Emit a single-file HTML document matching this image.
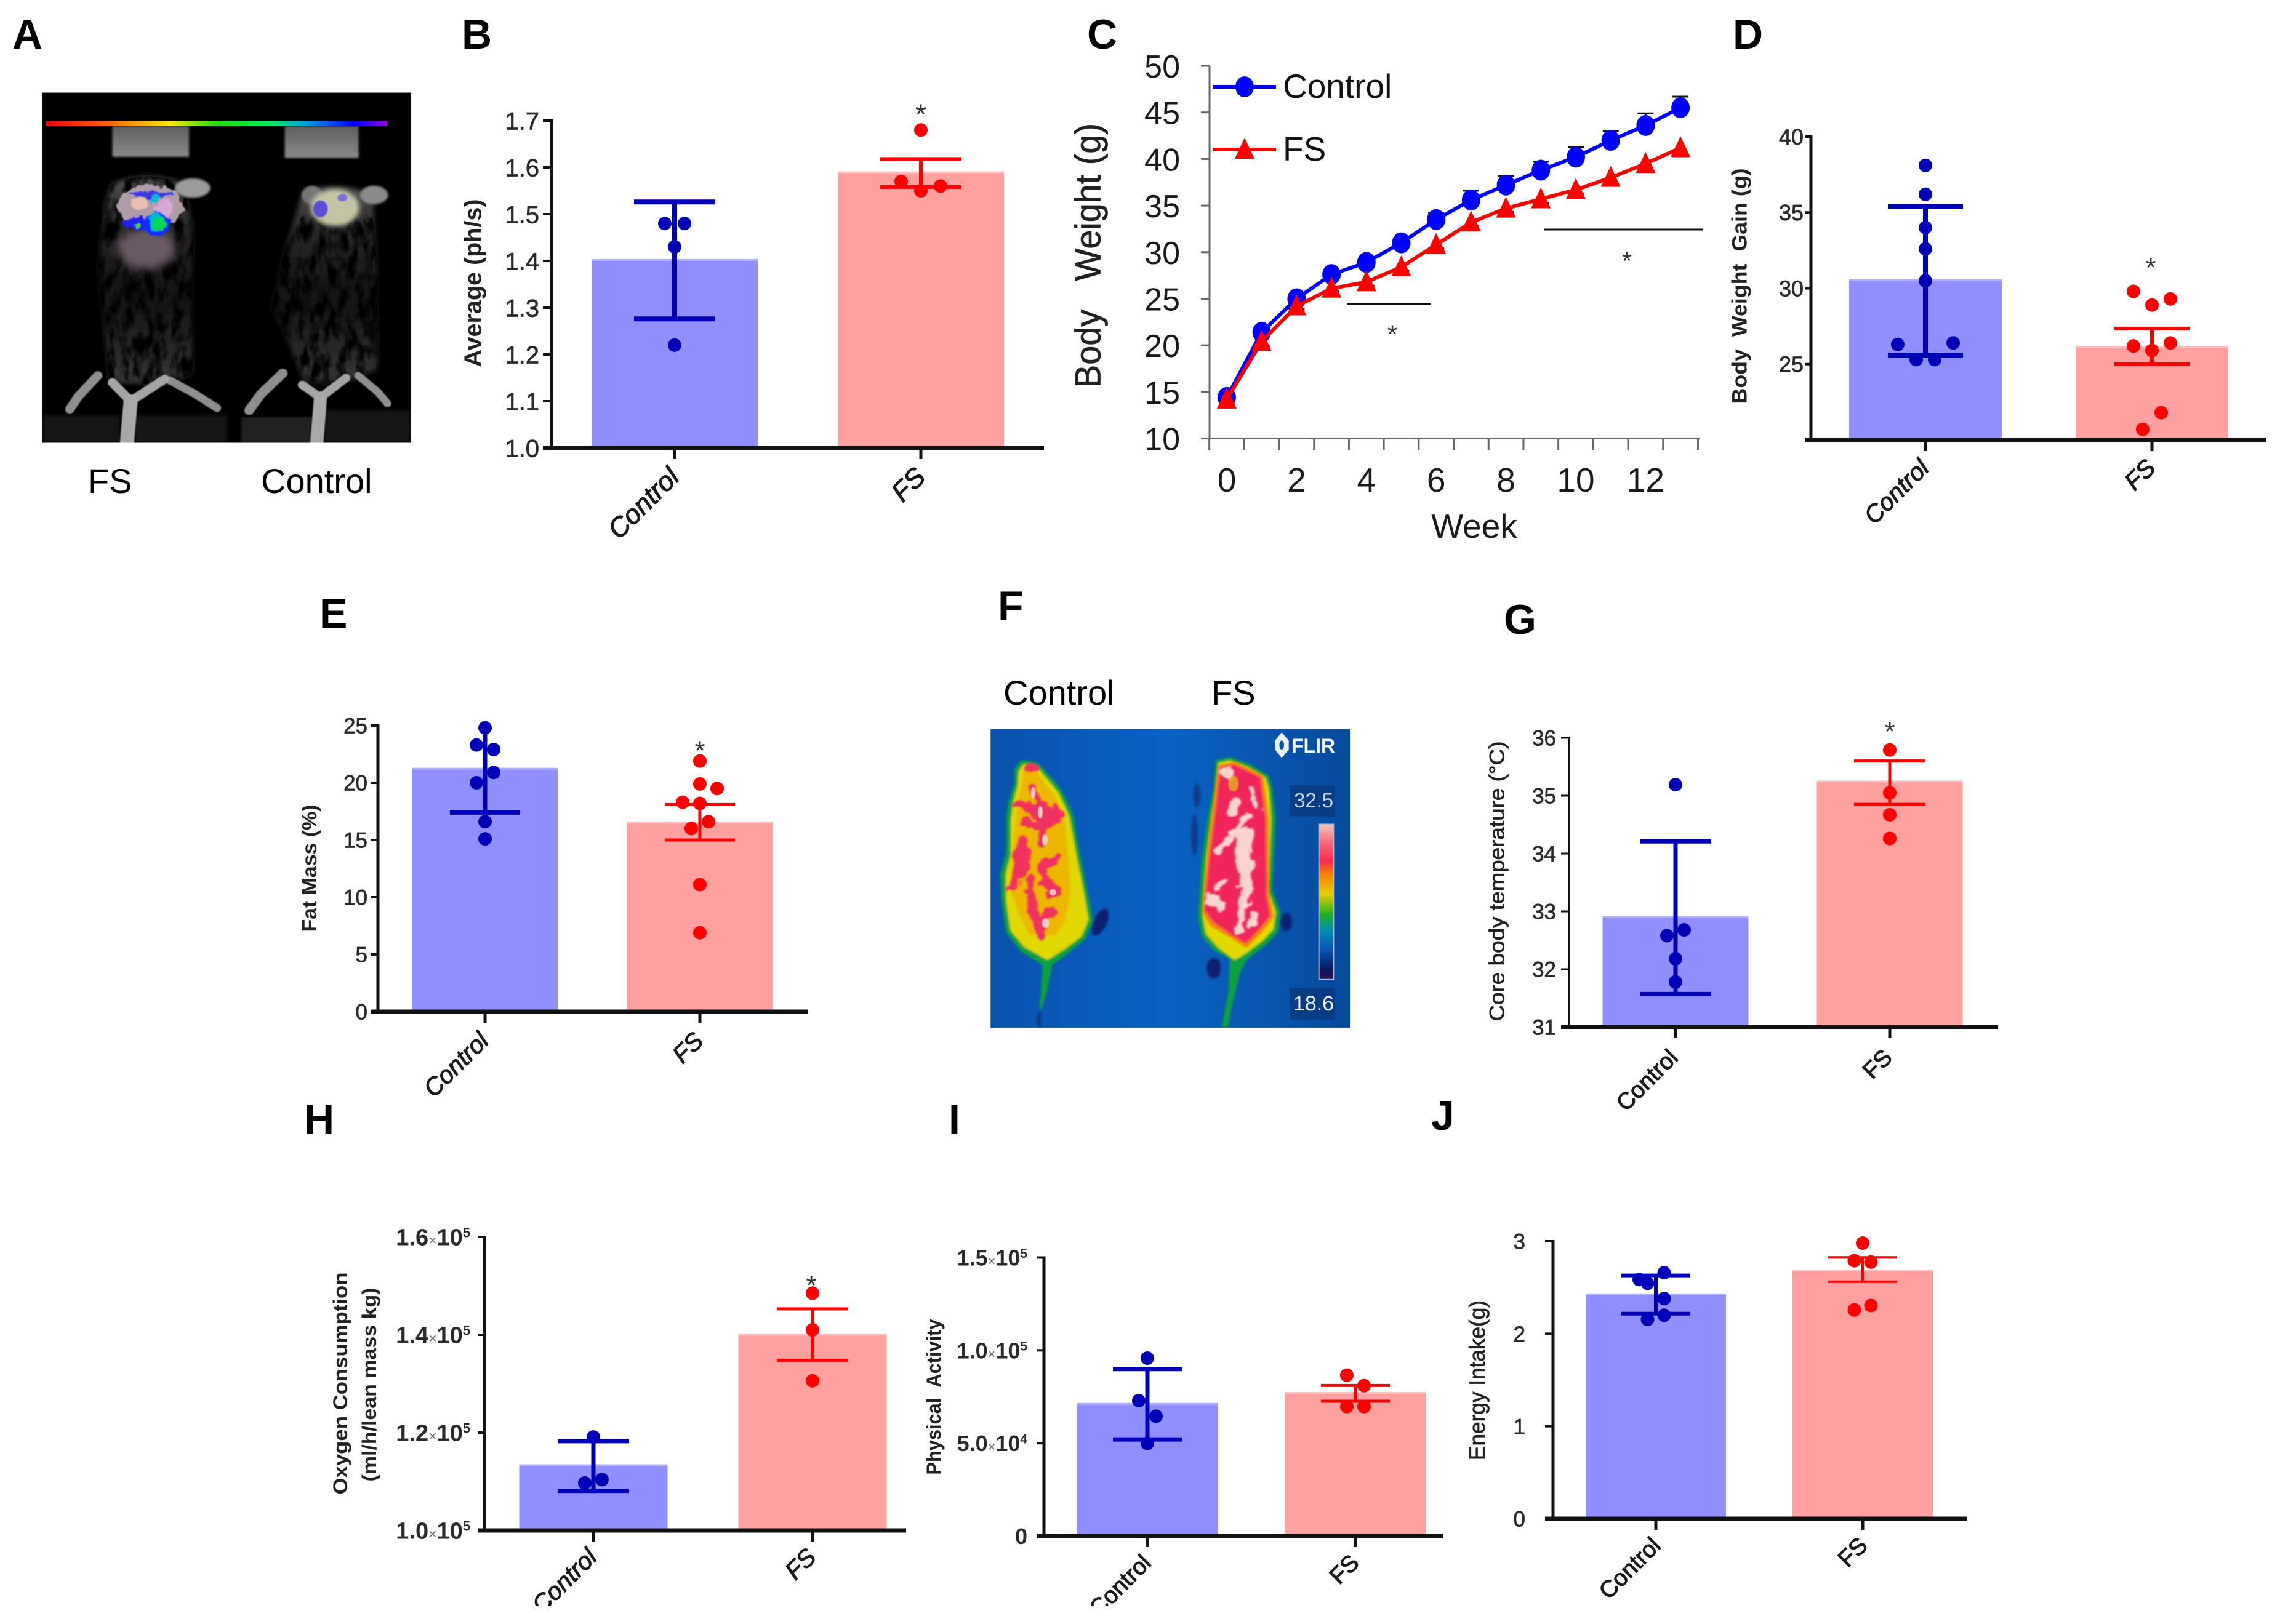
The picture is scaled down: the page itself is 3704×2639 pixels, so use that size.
<!DOCTYPE html>
<html lang="en">
<head>
<meta charset="utf-8">
<title>Multi-panel mouse study figure</title>
<style>
html,body{margin:0;padding:0;background:#fff;}
svg{display:block;font-family:"Liberation Sans",sans-serif;}
</style>
</head>
<body>
<svg id="figure" xmlns="http://www.w3.org/2000/svg" width="3704" height="2639" viewBox="0 0 3704 2639">
<defs>
<filter id="b2" x="-30%" y="-30%" width="160%" height="160%"><feGaussianBlur stdDeviation="2"/></filter>
<filter id="b5" x="-30%" y="-30%" width="160%" height="160%"><feGaussianBlur stdDeviation="5"/></filter>
<filter id="b10" x="-30%" y="-30%" width="160%" height="160%"><feGaussianBlur stdDeviation="10"/></filter>
<filter id="b20" x="-30%" y="-30%" width="160%" height="160%"><feGaussianBlur stdDeviation="20"/></filter>
<filter id="organic" x="-30%" y="-30%" width="160%" height="160%">
<feTurbulence type="fractalNoise" baseFrequency=".018 .012" numOctaves="3" seed="4" result="n"/>
<feDisplacementMap in="SourceGraphic" in2="n" scale="70" xChannelSelector="R" yChannelSelector="G"/>
<feGaussianBlur stdDeviation="4"/>
</filter>
<filter id="blotch" x="-30%" y="-30%" width="160%" height="160%">
<feTurbulence type="fractalNoise" baseFrequency=".025" numOctaves="3" seed="7" result="n"/>
<feDisplacementMap in="SourceGraphic" in2="n" scale="40" xChannelSelector="R" yChannelSelector="G"/>
<feGaussianBlur stdDeviation="2"/>
</filter>
<filter id="fur" x="0" y="0" width="100%" height="100%">
<feTurbulence type="fractalNoise" baseFrequency=".025 .012" numOctaves="3" seed="9"/>
<feColorMatrix type="matrix" values="0 0 0 0 0  0 0 0 0 0  0 0 0 0 0  3.2 0 0 0 -1.2"/>
<feComposite in2="SourceGraphic" operator="in"/>
</filter>
<linearGradient id="rainbow" x1="0" x2="1" y1="0" y2="0">
<stop offset="0" stop-color="#f00010"/><stop offset=".18" stop-color="#ff6000"/><stop offset=".36" stop-color="#ffe800"/><stop offset=".5" stop-color="#20e000"/><stop offset=".66" stop-color="#00e860"/><stop offset=".76" stop-color="#00a0e0"/><stop offset=".9" stop-color="#0000ff"/><stop offset="1" stop-color="#9000e0"/>
</linearGradient>
<linearGradient id="mouseFur" x1="0" x2="0" y1="0" y2="1">
<stop offset="0" stop-color="#505050"/><stop offset=".22" stop-color="#282828"/><stop offset=".58" stop-color="#121212"/><stop offset=".88" stop-color="#2c2c2c"/><stop offset="1" stop-color="#363636"/>
</linearGradient>
<linearGradient id="coneGray" x1="0" x2="0" y1="0" y2="1">
<stop offset="0" stop-color="#5e5e5e"/><stop offset="1" stop-color="#8a8a8a"/>
</linearGradient>
<linearGradient id="thermalBg" x1="0" x2="1" y1="0" y2="0">
<stop offset="0" stop-color="#0a52ae"/><stop offset=".5" stop-color="#0a62c4"/><stop offset="1" stop-color="#084a9c"/>
</linearGradient>
<linearGradient id="thermalScale" x1="0" x2="0" y1="0" y2="1">
<stop offset="0" stop-color="#f0c8b8"/><stop offset=".13" stop-color="#f86078"/><stop offset=".24" stop-color="#ff2850"/><stop offset=".32" stop-color="#f88000"/><stop offset=".45" stop-color="#e8d000"/><stop offset=".58" stop-color="#20b020"/><stop offset=".68" stop-color="#0090b0"/><stop offset=".8" stop-color="#0a58b8"/><stop offset=".93" stop-color="#0a1a60"/><stop offset="1" stop-color="#301050"/>
</linearGradient>
<clipPath id="clipA"><rect x="22" y="28" width="1515" height="1512"/></clipPath>
<clipPath id="clipF"><rect x="24" y="14" width="1526" height="1456"/></clipPath>
</defs>

<rect x="0" y="0" width="3704" height="2639" fill="#fff"/>

<g id="panel-a-image" transform="translate(60,140) scale(.3954,.3763)">
<g clip-path="url(#clipA)">
<rect x="22" y="28" width="1515" height="1512" fill="#000"/>
<rect x="22" y="1420" width="320" height="120" fill="#121212" filter="url(#b10)"/>
<rect x="400" y="1420" width="380" height="120" fill="#161616" filter="url(#b10)"/>
<rect x="840" y="1430" width="290" height="110" fill="#202020" filter="url(#b5)"/>
<rect x="1180" y="1400" width="357" height="140" fill="#181818" filter="url(#b10)"/>
<g filter="url(#b5)" fill="url(#coneGray)">
<rect x="310" y="172" width="315" height="133"/>
<rect x="1018" y="172" width="304" height="138"/>
</g>
<path filter="url(#b10)" fill="url(#mouseFur)" d="M310,420 Q460,360 600,420 L640,600 L640,900 L640,1240 L540,1290 L300,1280 L280,1100 L250,800 L280,500 Z"/>
<path filter="url(#b10)" fill="url(#mouseFur)" d="M1090,460 Q1230,400 1380,470 L1400,800 L1400,1220 L1300,1270 L1100,1280 L1030,1100 L960,960 L1020,700 Z"/>
<path filter="url(#fur)" fill="#000" d="M310,420 Q460,360 600,420 L640,600 L640,900 L640,1240 L540,1290 L300,1280 L280,1100 L250,800 L280,500 Z"/>
<path filter="url(#fur)" fill="#000" d="M1090,560 Q1230,500 1380,570 L1400,800 L1400,1220 L1300,1270 L1100,1280 L1030,1100 L960,960 L1020,700 Z"/>
<ellipse filter="url(#b5)" cx="640" cy="440" rx="72" ry="42" fill="#9a9a9a"/>
<ellipse filter="url(#b5)" cx="1385" cy="470" rx="58" ry="40" fill="#8a8a8a"/>
<ellipse filter="url(#b5)" cx="1130" cy="470" rx="42" ry="40" fill="#777"/>
<ellipse filter="url(#b10)" cx="1225" cy="525" rx="100" ry="80" fill="#c4c4a4"/>
<ellipse filter="url(#b2)" cx="1165" cy="530" rx="30" ry="36" fill="#5a50d8"/>
<ellipse filter="url(#b2)" cx="1255" cy="482" rx="20" ry="16" fill="#7a70d8"/>
<ellipse filter="url(#b20)" cx="450" cy="700" rx="120" ry="90" fill="#6a5a64"/>
<g filter="url(#blotch)">
<ellipse cx="465" cy="520" rx="135" ry="95" fill="#b09ca8"/>
<ellipse cx="470" cy="465" rx="90" ry="14" fill="#3a3ae0"/>
<ellipse cx="520" cy="525" rx="38" ry="38" fill="#d8a8d8"/>
<ellipse cx="425" cy="510" rx="38" ry="30" fill="#e8c0b0"/>
<ellipse cx="410" cy="590" rx="60" ry="28" fill="#2020f0"/>
<ellipse cx="492" cy="595" rx="52" ry="52" fill="#1030ff"/>
<ellipse cx="485" cy="585" rx="28" ry="40" fill="#00b0d8"/>
<ellipse cx="500" cy="595" rx="30" ry="24" fill="#00d850"/>
<ellipse cx="415" cy="600" rx="16" ry="11" fill="#50d810"/>
<ellipse cx="483" cy="482" rx="15" ry="16" fill="#00b8d8"/>
</g>
<g filter="url(#b2)" fill="none" stroke-linecap="round" stroke-linejoin="round">
<path stroke="#8e8e8e" stroke-width="38" d="M250,1250 L170,1340 L135,1395"/>
<path stroke="#8e8e8e" stroke-width="34" d="M545,1270 L650,1330 L740,1390"/>
<path stroke="#a4a4a4" stroke-width="38" d="M310,1280 L385,1360 M525,1265 L385,1360"/>
<path stroke="#a8a8a8" stroke-width="58" d="M385,1360 L370,1540"/>
<path stroke="#8e8e8e" stroke-width="40" d="M1010,1240 L920,1330 L872,1400"/>
<path stroke="#8e8e8e" stroke-width="32" d="M1320,1250 L1400,1320 L1440,1370"/>
<path stroke="#a4a4a4" stroke-width="36" d="M1090,1290 L1165,1345 M1270,1260 L1165,1345"/>
<path stroke="#a8a8a8" stroke-width="54" d="M1165,1345 L1150,1540"/>
</g>
<rect x="38" y="150" width="1402" height="22" fill="url(#rainbow)"/>
</g>
</g>

<g id="panel-f-image" transform="translate(1600,1180) scale(.3827,.3333)">
<g clip-path="url(#clipF)">
<rect x="24" y="14" width="1526" height="1456" fill="url(#thermalBg)"/>
<g fill="#08246e" filter="url(#b5)">
<ellipse cx="490" cy="955" rx="28" ry="70" transform="rotate(20 490 955)"/>
<ellipse cx="972" cy="1180" rx="30" ry="50"/>
<ellipse cx="1280" cy="955" rx="24" ry="45"/>
<ellipse cx="900" cy="340" rx="14" ry="60" fill="#0a3a88"/>
<ellipse cx="890" cy="530" rx="14" ry="100" fill="#0a3a88"/>
<ellipse cx="230" cy="1430" rx="10" ry="40" fill="#0a3a88"/>
</g>
<g filter="url(#b5)">
<path fill="#10a040" d="M150,170 Q190,160 230,185 L275,240 L325,310 L375,430 L400,600 L435,800 L460,950 L425,1040 L345,1115 L285,1165 L280,1200 L262,1300 L240,1380 L232,1380 L245,1165 L150,1095 L90,1005 L70,850 L65,720 L90,620 L90,450 L100,370 L125,280 L125,210 Z"/>
<path fill="#10a040" d="M980,165 L1040,150 L1125,185 L1205,240 L1220,300 L1235,450 L1220,800 L1255,900 L1245,1005 L1195,1065 L1115,1135 L1085,1200 L1055,1330 L1032,1470 L1005,1470 L1035,1290 L1040,1135 L975,1095 L920,1025 L905,930 L920,650 L945,450 L970,300 Z"/>
<path fill="#e0d800" d="M160,190 Q190,180 220,200 L262,255 L312,325 L358,440 L385,610 L420,810 L440,945 L410,1025 L335,1090 L265,1140 L165,1075 L108,995 L90,850 L88,725 L110,625 L110,455 L120,375 L140,285 L142,225 Z"/>
<path fill="#e0d800" d="M992,180 L1040,168 L1115,200 L1190,250 L1205,305 L1215,450 L1202,805 L1235,905 L1225,990 L1180,1045 L1105,1110 L1060,1140 L990,1080 L938,1012 L925,930 L940,655 L962,455 L985,305 Z"/>
<path fill="#f2a800" d="M170,205 Q190,195 215,215 L245,265 L295,335 L335,445 L350,600 L365,800 L340,950 L300,1020 L190,1020 L140,900 L105,780 L120,620 L130,450 L140,380 L155,285 Z" opacity=".7"/>
</g>
<g filter="url(#organic)" fill="none" stroke="#f03060" stroke-linecap="round" stroke-linejoin="round" stroke-width="42">
<polyline points="195,200 205,205"/>
<polyline points="200,300 240,420 320,430"/>
<polyline points="155,380 240,430"/>
<polyline points="250,430 250,580"/>
<polyline points="160,570 150,700 125,780"/>
<polyline points="305,650 240,700 290,820"/>
<polyline points="190,750 205,900 240,1000"/>
<polyline points="275,900 215,985"/>
<polyline points="175,460 250,500"/>
<polyline points="300,400 280,470"/>
</g>
<g filter="url(#b2)" fill="#f8c8c8">
<ellipse cx="205" cy="325" rx="10" ry="28"/>
<ellipse cx="235" cy="420" rx="10" ry="30"/>
<ellipse cx="255" cy="555" rx="12" ry="28"/>
<ellipse cx="288" cy="810" rx="14" ry="16"/>
<ellipse cx="258" cy="960" rx="16" ry="24"/>
</g>
<g filter="url(#b5)">
<path fill="#f88000" d="M990,190 L1060,175 L1180,240 L1205,450 L1208,830 L1225,930 L1175,1005 L1110,1080 L1050,1035 L960,975 L922,905 L942,650 L962,450 Z"/>
<path fill="#f0285a" d="M1000,200 L1060,188 L1170,250 L1192,450 L1196,830 L1212,925 L1165,990 L1108,1060 L1050,1020 L970,955 L932,895 L952,650 L975,450 Z"/>
</g>
<g filter="url(#organic)" fill="none" stroke="#f8d4cc" stroke-linecap="round" stroke-linejoin="round">
<polyline stroke-width="46" points="1025,215 1030,240"/>
<polyline stroke-width="40" points="1075,360 1050,425"/>
<polyline stroke-width="28" points="1130,320 1150,400"/>
<polyline stroke-width="60" points="1100,520 1105,700 1095,860"/>
<polyline stroke-width="30" points="1125,430 1060,520 1000,600"/>
<polyline stroke-width="60" points="965,850 1000,880"/>
<polyline stroke-width="30" points="1090,860 1080,1000"/>
<polyline stroke-width="34" points="1140,910 1135,970"/>
<polyline stroke-width="24" points="1020,740 990,800"/>
</g>
<ellipse cx="1055" cy="280" rx="22" ry="38" fill="#e0b020" opacity=".8" filter="url(#b2)"/>
<rect x="1295" y="290" width="190" height="150" fill="#093a80" opacity=".85"/>
<rect x="1295" y="1275" width="190" height="155" fill="#093a80" opacity=".85"/>
<rect x="1418" y="478" width="62" height="757" fill="url(#thermalScale)" stroke="#b0b8d8" stroke-width="5"/>
<polygon points="1260,30 1290,70 1290,115 1260,155 1232,115 1232,70" fill="#e8f0f8"/>
<ellipse cx="1260" cy="92" rx="10" ry="22" fill="#0a50a8"/>
</g>
</g>
<text x="2098" y="1223" font-size="32" font-weight="700" fill="#f0f4fa">FLIR</text>
<text x="2134" y="1312" font-size="33" fill="#c8d8e8" text-anchor="middle">32.5</text>
<text x="2134" y="1642" font-size="34" fill="#f0f4fa" text-anchor="middle">18.6</text>

<g font-weight="700" font-size="68" fill="#000">
<text x="20" y="79">A</text>
<text x="750" y="79">B</text>
<text x="1766" y="79">C</text>
<text x="2815" y="79">D</text>
<text x="519" y="1020">E</text>
<text x="1621" y="1008">F</text>
<text x="2443" y="1030">G</text>
<text x="494" y="1842">H</text>
<text x="1541" y="1842">I</text>
<text x="2325" y="1836">J</text>
</g>
<g font-size="56" fill="#000">
<text x="143" y="801">FS</text>
<text x="424" y="801">Control</text>
<text x="1630" y="1145">Control</text>
<text x="1968" y="1145">FS</text>
</g>
<g id="charts"></g>
<rect x="800" y="2610" width="1200" height="29" fill="#fff"/>
</svg>

<script>
const groupNames = ['Control', 'FS'];

const bTickValues = [1.0, 1.1, 1.2, 1.3, 1.4, 1.5, 1.6, 1.7];
const bTickLabels = ['1.0', '1.1', '1.2', '1.3', '1.4', '1.5', '1.6', '1.7'];
const bMeans = [1.404, 1.591];
const bErrLow = [1.276, 1.558];
const bErrHigh = [1.526, 1.618];
const bControlPoints = [1.48, 1.48, 1.43, 1.22];
const bControlSlots = [-1, 1, 0, 0];
const bFsPoints = [1.68, 1.57, 1.55, 1.56];
const bFsSlots = [0, -2, 0, 2];

const dTickValues = [25, 30, 35, 40];
const dTickLabels = ['25', '30', '35', '40'];
const dMeans = [30.6, 26.2];
const dErrLow = [25.6, 25.0];
const dErrHigh = [35.4, 27.35];
const dControlPoints = [38.1, 36.2, 34.0, 32.6, 30.5, 26.3, 26.4, 25.3, 25.3];
const dControlSlots = [0, 0, 0, 0, 0, -3, 3, -1, 1];
const dFsPoints = [29.8, 29.3, 28.9, 26.2, 26.4, 25.9, 21.8, 20.7];
const dFsSlots = [-2, 2, 0, -2, 2, 0, 1, -1];

const eTickValues = [0, 5, 10, 15, 20, 25];
const eTickLabels = ['0', '5', '10', '15', '20', '25'];
const eMeans = [21.3, 16.6];
const eErrLow = [17.4, 15.0];
const eErrHigh = [24.9, 18.1];
const eControlPoints = [24.8, 23.3, 22.9, 20.9, 20.0, 16.6, 15.1];
const eControlSlots = [0, -1, 1, 1, -1, 0, 0];
const eFsPoints = [21.9, 19.9, 19.5, 18.3, 18.2, 16.6, 16.0, 11.1, 6.9];
const eFsSlots = [0, 0, 2, -2, 0, 1, -1, 0, 0];

const gTickValues = [31, 32, 33, 34, 35, 36];
const gTickLabels = ['31', '32', '33', '34', '35', '36'];
const gMeans = [32.92, 35.26];
const gErrLow = [31.57, 34.85];
const gErrHigh = [34.21, 35.6];
const gControlPoints = [35.19, 32.68, 32.58, 32.18, 31.78];
const gControlSlots = [0, 1, -1, 0, 0];
const gFsPoints = [35.79, 35.05, 34.67, 34.26];
const gFsSlots = [0, 0, 0, 0];

const hTickValues = [100000, 120000, 140000, 160000];
const hTickLabels = ['1.0×10^5', '1.2×10^5', '1.4×10^5', '1.6×10^5'];
const hMeans = [113500, 140200];
const hErrLow = [108100, 134800];
const hErrHigh = [118250, 145300];
const hControlPoints = [119100, 110400, 109700];
const hControlSlots = [0, 1, -1];
const hFsPoints = [148500, 141000, 130600];
const hFsSlots = [0, 0, 0];

const iTickValues = [0, 50000, 100000, 150000];
const iTickLabels = ['0', '5.0×10^4', '1.0×10^5', '1.5×10^5'];
const iMeans = [71650, 77500];
const iErrLow = [52000, 72600];
const iErrHigh = [89900, 81100];
const iControlPoints = [95800, 72900, 64500, 49900];
const iControlSlots = [0, -1, 1, 0];
const iFsPoints = [86600, 81000, 69700, 69700];
const iFsSlots = [-1, 1, -1, 1];

const jTickValues = [0, 1, 2, 3];
const jTickLabels = ['0', '1', '2', '3'];
const jMeans = [2.435, 2.694];
const jErrLow = [2.217, 2.563];
const jErrHigh = [2.63, 2.825];
const jControlPoints = [2.66, 2.585, 2.545, 2.38, 2.2, 2.155];
const jControlSlots = [1, -2, -1, 1, 1, -1];
const jFsPoints = [2.98, 2.79, 2.775, 2.305, 2.257];
const jFsSlots = [0, -1, 1, 1, -1];

const weeks = [0, 1, 2, 3, 4, 5, 6, 7, 8, 9, 10, 11, 12, 13];
const weekTickValues = [0, 2, 4, 6, 8, 10, 12];
const weightTickValues = [10, 15, 20, 25, 30, 35, 40, 45, 50];
const controlWeight = [14.4, 21.4, 25.0, 27.6, 28.9, 31.0, 33.5, 35.6, 37.2, 38.8, 40.2, 42.0, 43.6, 45.5];
const controlWeightSem = [0.3, 0.5, 0.4, 0.5, 0.5, 0.5, 0.7, 1.0, 1.0, 0.9, 1.1, 1.0, 1.3, 1.2];
const fsWeight = [14.2, 20.4, 24.2, 26.1, 26.8, 28.4, 30.8, 33.2, 34.7, 35.7, 36.7, 38.0, 39.5, 41.2];
const fsWeightSem = [0.2, 0.5, 0.3, 0.3, 0.4, 0.4, 0.4, 0.4, 0.4, 0.4, 0.4, 0.8, 0.9, 0.9];

const SVGNS = 'http://www.w3.org/2000/svg';
const BLUE = '#0000b8';
const RED = '#ff0000';
const root = document.getElementById('charts');

function make(tag, parent, attrs, text) {
  const node = document.createElementNS(SVGNS, tag);
  for (const key in attrs) node.setAttribute(key, attrs[key]);
  if (text !== undefined) node.textContent = text;
  parent.appendChild(node);
  return node;
}

function drawLine(parent, name, x1, y1, x2, y2, color, width) {
  const el = make('line', parent, { x1: x1, y1: y1, x2: x2, y2: y2, stroke: color, 'stroke-width': width });
  
  
  return el;
}

function drawYTitle(parent, name, label, cx, cy, length, size, weight) {
  const baseX = cx + size * 0.34;
  const el = make('text', parent, {
    x: baseX, y: cy, transform: 'rotate(-90 ' + baseX + ' ' + cy + ')',
    'text-anchor': 'middle', 'font-size': size, 'font-weight': weight, fill: '#222',
    stroke: '#222', 'stroke-width': weight === 400 ? 0.7 : 0,
    textLength: length, lengthAdjust: 'spacingAndGlyphs'
  }, label);
  
  
  return el;
}

function drawStar(parent, name, x, yCenter, size) {
  const el = make('text', parent, {
    x: x, y: yCenter + size * 0.58, 'text-anchor': 'middle', 'font-size': size, fill: '#333'
  }, '*');
  
  
  return el;
}

function writeTickLabel(el, label, size) {
  const parts = label.split('×');
  if (parts.length === 1) { el.textContent = label; return; }
  const powerParts = parts[1].split('^');
  make('tspan', el, {}, parts[0]);
  make('tspan', el, { 'font-size': size * 0.6, 'font-weight': 400, fill: '#666' }, '×');
  make('tspan', el, {}, powerParts[0]);
  make('tspan', el, { 'font-size': size * 0.58, dy: -size * 0.35 }, powerParts[1]);
}

function drawBarPanel(cfg) {
  const group = make('g', root, {});
  
  
  const yScale = function (v) {
    return cfg.yBottom - (v - cfg.vMin) / (cfg.vMax - cfg.vMin) * (cfg.yBottom - cfg.yTop);
  };
  const xScale = function (i) { return cfg.x0 + i * cfg.xStep; };
  const fills = ['#8f8fff', '#ffa0a0'];
  const edges = ['#b0b0ff', '#ffbcbc'];
  const inks = [BLUE, RED];

  cfg.means.forEach(function (value, i) {
    const top = yScale(value);
    const bar = make('rect', group, {
      x: xScale(i) - cfg.barWidth / 2, y: top, width: cfg.barWidth, height: cfg.yBottom - top, fill: fills[i]
    });
    
    
    const edge = make('rect', group, {
      x: xScale(i) - cfg.barWidth / 2, y: top, width: cfg.barWidth, height: 3, fill: edges[i]
    });
    
    
  });

  drawLine(group, 'y-axis', cfg.axisX, cfg.yTop - 2, cfg.axisX, cfg.yBottom + 3, '#111', cfg.axisWidth);
  drawLine(group, 'x-axis', cfg.axisX - cfg.tickLength, cfg.yBottom, cfg.axisEnd, cfg.yBottom, '#111', cfg.axisWidth + 2);

  cfg.ticks.forEach(function (value, i) {
    const y = yScale(value);
    drawLine(group, 'y-tick', cfg.axisX - cfg.tickLength, y, cfg.axisX, y, '#111', cfg.axisWidth - 1);
    const label = make('text', group, {
      x: cfg.axisX - cfg.labelGap, y: y + cfg.tickFont * 0.36, 'text-anchor': 'end',
      'font-size': cfg.tickFont, 'font-weight': cfg.tickWeight, fill: '#2a2a2a',
      stroke: '#2a2a2a', 'stroke-width': cfg.tickWeight === 400 ? 0.7 : 0
    });
    
    
    writeTickLabel(label, cfg.tickLabels[i], cfg.tickFont);
  });

  groupNames.forEach(function (name, i) {
    const x = xScale(i);
    drawLine(group, 'x-tick', x, cfg.yBottom, x, cfg.yBottom + 18, '#111', 5);
    const lx = x + cfg.xLabelDx;
    const ly = cfg.yBottom + cfg.xLabelDy;
    const label = make('text', group, {
      x: lx, y: ly, transform: 'rotate(-45 ' + lx + ' ' + ly + ')', 'text-anchor': 'end',
      'font-size': cfg.xLabelFont, 'font-style': cfg.xLabelStyle, fill: '#1a1a1a',
      stroke: '#1a1a1a', 'stroke-width': 1.1
    }, name);
    
    
  });

  [0, 1].forEach(function (i) {
    const x = xScale(i);
    const width = i === 0 ? cfg.errWidth : cfg.errWidth - 2;
    drawLine(group, 'error-stem', x, yScale(cfg.errHigh[i]), x, yScale(cfg.errLow[i]), inks[i], width);
    if (!(i === 0 && cfg.hideControlTopCap)) {
      drawLine(group, 'error-cap-high', x - cfg.capHalf, yScale(cfg.errHigh[i]), x + cfg.capHalf, yScale(cfg.errHigh[i]), inks[i], width);
    }
    drawLine(group, 'error-cap-low', x - cfg.capHalf, yScale(cfg.errLow[i]), x + cfg.capHalf, yScale(cfg.errLow[i]), inks[i], width);
  });

  [[cfg.controlPoints, cfg.controlSlots], [cfg.fsPoints, cfg.fsSlots]].forEach(function (pair, i) {
    pair[0].forEach(function (value, k) {
      const dot = make('circle', group, {
        cx: xScale(i) + pair[1][k] * cfg.slotStep, cy: yScale(value), r: 11, fill: inks[i]
      });
      
      
    });
  });
  return group;
}

const panelB = drawBarPanel({
  name: 'panel-b-average-flux', x0: 1096, xStep: 400, barWidth: 270, axisX: 896, axisEnd: 1696,
  yTop: 196, yBottom: 728, vMin: 1.0, vMax: 1.7, ticks: bTickValues, tickLabels: bTickLabels,
  tickFont: 40, tickWeight: 400, tickLength: 14, labelGap: 20, axisWidth: 5,
  means: bMeans, errLow: bErrLow, errHigh: bErrHigh, controlPoints: bControlPoints, controlSlots: bControlSlots,
  fsPoints: bFsPoints, fsSlots: bFsSlots, slotStep: 16, capHalf: 66, errWidth: 8,
  xLabelDx: 10, xLabelDy: 50, xLabelFont: 44, xLabelStyle: 'italic'
});
drawYTitle(panelB, 'y-axis-title', 'Average (ph/s)', 768, 460, 273, 39, 700);
drawStar(panelB, 'significance-star', 1496, 175, 46);

const panelD = drawBarPanel({
  name: 'panel-d-weight-gain', x0: 3128, xStep: 368, barWidth: 248, axisX: 2942, axisEnd: 3681,
  yTop: 222, yBottom: 715, vMin: 20, vMax: 40, ticks: dTickValues, tickLabels: dTickLabels,
  tickFont: 36, tickWeight: 400, tickLength: 9, labelGap: 12, axisWidth: 5,
  means: dMeans, errLow: dErrLow, errHigh: dErrHigh, controlPoints: dControlPoints, controlSlots: dControlSlots,
  fsPoints: dFsPoints, fsSlots: dFsSlots, slotStep: 15, capHalf: 61, errWidth: 8,
  xLabelDx: 8, xLabelDy: 48, xLabelFont: 40, xLabelStyle: 'italic'
});
drawYTitle(panelD, 'y-axis-title', 'Body\u00a0\u00a0Weight\u00a0\u00a0Gain (g)', 2826, 465, 383, 34, 700);
drawStar(panelD, 'significance-star', 3494, 424, 44);

const panelE = drawBarPanel({
  name: 'panel-e-fat-mass', x0: 788, xStep: 349, barWidth: 237, axisX: 614, axisEnd: 1313,
  yTop: 1179, yBottom: 1644, vMin: 0, vMax: 25, ticks: eTickValues, tickLabels: eTickLabels,
  tickFont: 35, tickWeight: 400, tickLength: 12, labelGap: 17, axisWidth: 5,
  means: eMeans, errLow: eErrLow, errHigh: eErrHigh, controlPoints: eControlPoints, controlSlots: eControlSlots,
  fsPoints: eFsPoints, fsSlots: eFsSlots, slotStep: 14, capHalf: 57, errWidth: 7, hideControlTopCap: true,
  xLabelDx: 8, xLabelDy: 50, xLabelFont: 40, xLabelStyle: 'italic'
});
drawYTitle(panelE, 'y-axis-title', 'Fat Mass (%)', 503, 1411, 207, 33, 700);
drawStar(panelE, 'significance-star', 1137, 1209, 44);

const panelG = drawBarPanel({
  name: 'panel-g-core-temperature', x0: 2722, xStep: 348, barWidth: 237, axisX: 2549, axisEnd: 3246,
  yTop: 1199, yBottom: 1669, vMin: 31, vMax: 36, ticks: gTickValues, tickLabels: gTickLabels,
  tickFont: 35, tickWeight: 400, tickLength: 13, labelGap: 21, axisWidth: 4,
  means: gMeans, errLow: gErrLow, errHigh: gErrHigh, controlPoints: gControlPoints, controlSlots: gControlSlots,
  fsPoints: gFsPoints, fsSlots: gFsSlots, slotStep: 14, capHalf: 58, errWidth: 7,
  xLabelDx: 6, xLabelDy: 52, xLabelFont: 38, xLabelStyle: 'normal'
});
drawYTitle(panelG, 'y-axis-title', 'Core body temperature (°C)', 2432, 1432, 455, 34, 400);
drawStar(panelG, 'significance-star', 3070, 1178, 44);

const panelH = drawBarPanel({
  name: 'panel-h-oxygen-consumption', x0: 964, xStep: 356, barWidth: 241, axisX: 787, axisEnd: 1472,
  yTop: 2010, yBottom: 2487, vMin: 100000, vMax: 160000, ticks: hTickValues, tickLabels: hTickLabels,
  tickFont: 38, tickWeight: 700, tickLength: 11, labelGap: 23, axisWidth: 5,
  means: hMeans, errLow: hErrLow, errHigh: hErrHigh, controlPoints: hControlPoints, controlSlots: hControlSlots,
  fsPoints: hFsPoints, fsSlots: hFsSlots, slotStep: 14, capHalf: 58, errWidth: 7,
  xLabelDx: 8, xLabelDy: 46, xLabelFont: 40, xLabelStyle: 'italic'
});
drawYTitle(panelH, 'y-axis-title-line-1', 'Oxygen Consumption', 553, 2248, 361, 32, 700);
drawYTitle(panelH, 'y-axis-title-line-2', '(ml/h/lean mass kg)', 600, 2250, 315, 32, 700);
drawStar(panelH, 'significance-star', 1318, 2078, 44);

const panelI = drawBarPanel({
  name: 'panel-i-physical-activity', x0: 1864, xStep: 338, barWidth: 229, axisX: 1696, axisEnd: 2344,
  yTop: 2043.5, yBottom: 2496, vMin: 0, vMax: 150000, ticks: iTickValues, tickLabels: iTickLabels,
  tickFont: 36, tickWeight: 700, tickLength: 12, labelGap: 27, axisWidth: 5,
  means: iMeans, errLow: iErrLow, errHigh: iErrHigh, controlPoints: iControlPoints, controlSlots: iControlSlots,
  fsPoints: iFsPoints, fsSlots: iFsSlots, slotStep: 14, capHalf: 56, errWidth: 7,
  xLabelDx: 8, xLabelDy: 46, xLabelFont: 38, xLabelStyle: 'normal'
});
drawYTitle(panelI, 'y-axis-title', 'Physical\u00a0\u00a0Activity', 1517, 2270, 253, 32, 700);

const panelJ = drawBarPanel({
  name: 'panel-j-energy-intake', x0: 2690, xStep: 336, barWidth: 228, axisX: 2523, axisEnd: 3196,
  yTop: 2017, yBottom: 2468, vMin: 0, vMax: 3, ticks: jTickValues, tickLabels: jTickLabels,
  tickFont: 35, tickWeight: 400, tickLength: 13, labelGap: 45, axisWidth: 5,
  means: jMeans, errLow: jErrLow, errHigh: jErrHigh, controlPoints: jControlPoints, controlSlots: jControlSlots,
  fsPoints: jFsPoints, fsSlots: jFsSlots, slotStep: 13.5, capHalf: 56, errWidth: 6,
  xLabelDx: 10, xLabelDy: 46, xLabelFont: 38, xLabelStyle: 'normal'
});
drawYTitle(panelJ, 'y-axis-title', 'Energy Intake(g)', 2400, 2243, 260, 36, 400);

function drawLinePanel() {
  const group = make('g', root, {});
  
  
  const yTop = 107, yBottom = 712.5, axisX = 1965, axisEnd = 2761;
  const x0 = 1993, step = 56.7;
  const xScale = function (week) { return x0 + week * step; };
  const yScale = function (v) { return yBottom - (v - 10) / 40 * (yBottom - yTop); };

  drawLine(group, 'y-axis', axisX, yTop, axisX, yBottom, '#666', 3);
  drawLine(group, 'x-axis', axisX, yBottom, axisEnd, yBottom, '#666', 3);
  weightTickValues.forEach(function (v) {
    drawLine(group, 'y-tick', axisX - 14, yScale(v), axisX, yScale(v), '#666', 3);
    const label = make('text', group, {
      x: axisX - 48, y: yScale(v) + 19, 'text-anchor': 'end', 'font-size': 52, fill: '#1a1a1a'
    }, String(v));
    
    
  });
  for (let k = 0; k <= weeks.length; k++) {
    const tx = xScale(k - 0.5);
    drawLine(group, 'x-tick', tx, yBottom, tx, yBottom + 19, '#666', 3);
  }
  weekTickValues.forEach(function (w) {
    const label = make('text', group, {
      x: xScale(w), y: 799, 'text-anchor': 'middle', 'font-size': 55, fill: '#1a1a1a'
    }, String(w));
    
    
  });
  const xTitle = make('text', group, { x: 2395, y: 874, 'text-anchor': 'middle', 'font-size': 55, fill: '#1a1a1a' }, 'Week');
  
  
  drawYTitle(group, 'y-axis-title', 'Body\u00a0\u00a0\u00a0Weight (g)', 1768, 415, 430, 58, 400);

  weeks.forEach(function (w, i) {
    const x = xScale(w);
    drawLine(group, 'control-error-stem', x, yScale(controlWeight[i]), x, yScale(controlWeight[i] + controlWeightSem[i]), '#111', 3);
    drawLine(group, 'control-error-cap', x - 13, yScale(controlWeight[i] + controlWeightSem[i]), x + 13, yScale(controlWeight[i] + controlWeightSem[i]), '#111', 3);
  });
  const controlPath = make('polyline', group, {
    points: weeks.map(function (w, i) { return xScale(w) + ',' + yScale(controlWeight[i]); }).join(' '),
    fill: 'none', stroke: '#0000ff', 'stroke-width': 6
  });
  
  
  weeks.forEach(function (w, i) {
    const dot = make('ellipse', group, { cx: xScale(w), cy: yScale(controlWeight[i]), rx: 15, ry: 17, fill: '#0000ff' });
    
    
  });

  weeks.forEach(function (w, i) {
    const x = xScale(w);
    drawLine(group, 'fs-error-stem', x, yScale(fsWeight[i]), x, yScale(fsWeight[i] - fsWeightSem[i]), '#111', 3);
    drawLine(group, 'fs-error-cap', x - 13, yScale(fsWeight[i] - fsWeightSem[i]), x + 13, yScale(fsWeight[i] - fsWeightSem[i]), '#111', 3);
  });
  const fsPath = make('polyline', group, {
    points: weeks.map(function (w, i) { return xScale(w) + ',' + yScale(fsWeight[i]); }).join(' '),
    fill: 'none', stroke: '#ff0000', 'stroke-width': 6
  });
  
  
  const triangle = function (cx, cy) {
    return (cx - 16) + ',' + (cy + 15) + ' ' + (cx + 16) + ',' + (cy + 15) + ' ' + cx + ',' + (cy - 19);
  };
  weeks.forEach(function (w, i) {
    const tri = make('polygon', group, { points: triangle(xScale(w), yScale(fsWeight[i])), fill: '#ff0000' });
    
    
  });

  drawLine(group, 'legend-control-line', 1971, 141, 2073, 141, '#0000ff', 6);
  const legendDot = make('ellipse', group, { cx: 2022, cy: 141, rx: 15, ry: 17, fill: '#0000ff' });
  
  
  const legendControl = make('text', group, { x: 2084, y: 159, 'font-size': 55, fill: '#111' }, groupNames[0]);
  
  
  drawLine(group, 'legend-fs-line', 1971, 243, 2073, 243, '#ff0000', 6);
  const legendTri = make('polygon', group, { points: triangle(2022, 243), fill: '#ff0000' });
  
  
  const legendFs = make('text', group, { x: 2084, y: 261, 'font-size': 55, fill: '#111' }, groupNames[1]);
  
  

  drawLine(group, 'significance-line-early', 2188, 494, 2324, 494, '#111', 3);
  drawStar(group, 'significance-star-early', 2262, 533, 42);
  drawLine(group, 'significance-line-late', 2509, 373, 2767, 373, '#111', 3);
  drawStar(group, 'significance-star-late', 2643, 414, 42);
}
drawLinePanel();
</script>
</body>
</html>
